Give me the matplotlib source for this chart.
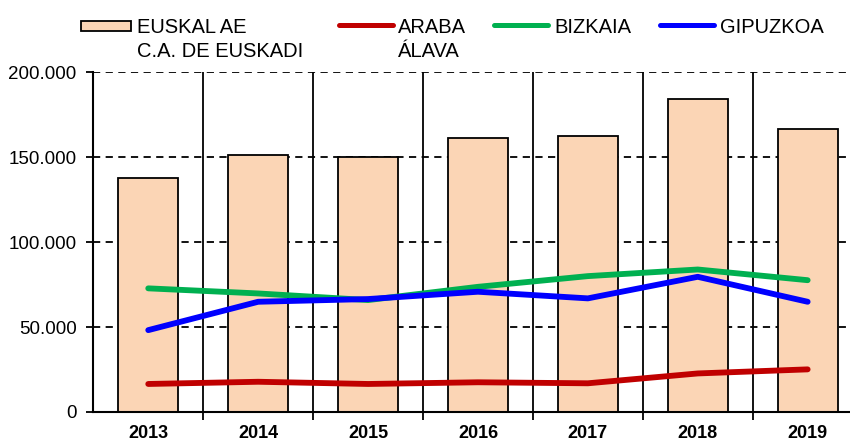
import matplotlib
matplotlib.use('Agg')
import matplotlib.pyplot as plt
from matplotlib.patches import Rectangle
from matplotlib.lines import Line2D
from matplotlib.ticker import FuncFormatter
import numpy as np

plt.rcParams['font.family'] = ['Liberation Sans', 'DejaVu Sans']

# values
years = ['2013', '2014', '2015', '2016', '2017', '2018', '2019']
euskal = [137600, 151500, 150300, 161100, 162300, 184500, 166800]
araba = [16500, 17800, 16500, 17500, 16900, 22700, 25100]
bizkaia = [72800, 69800, 65900, 73700, 80000, 83900, 77600]
gipuzkoa = [48200, 64900, 66500, 70800, 66900, 79600, 64900]

bar_label = ['EUSKAL AE', 'C.A. DE EUSKADI']
araba_label = ['ARABA', 'ÁLAVA']
bizkaia_label = ['BIZKAIA']
gipuzkoa_label = ['GIPUZKOA']

bar_color = '#FBD5B5'
red = '#C00000'
green = '#00B050'
blue = '#0000FF'

W, H = 850, 443
fig = plt.figure(figsize=(W / 100, H / 100), dpi=100)
# axes runs past the right edge, like the original (clipped)
ax = fig.add_axes([93.3 / W, 1 - 412 / H, 769.3 / W, 339.7 / H])

x = np.arange(len(years))
ax.bar(x, euskal, width=0.545, color=bar_color, edgecolor='black', linewidth=1.3, zorder=2)
ax.plot(x, araba, color=red, lw=4.2, solid_capstyle='round', zorder=3)
ax.plot(x, bizkaia, color=green, lw=4.2, solid_capstyle='round', zorder=3)
ax.plot(x, gipuzkoa, color=blue, lw=4.2, solid_capstyle='round', zorder=3)

ax.set_xlim(-0.5, len(years) - 0.5)
ax.set_ylim(0, 200000)
ax.set_yticks(np.arange(0, 200001, 50000))
ax.yaxis.set_major_formatter(FuncFormatter(lambda v, p: f'{int(v):,}'.replace(',', '.')))

# category boundaries as major ticks, labels on the centres
ax.set_xticks(np.arange(0.5, len(years) - 0.5, 1))
ax.set_xticklabels([])
ax.set_xticks(x, minor=True)
ax.set_xticklabels(years, minor=True, fontweight='bold', fontsize=13)
ax.tick_params(axis='x', which='major', direction='out', length=6, width=1.3, color='black')
ax.tick_params(axis='x', which='minor', length=0, pad=9.5)
ax.tick_params(axis='y', direction='out', length=5, width=1.3, labelsize=13.5, pad=7)

ax.set_axisbelow(True)
ax.xaxis.grid(True, which='major', color='black', linestyle='-', linewidth=1.3)
ax.yaxis.grid(True, color='black', linestyle=(0, (4, 3)), linewidth=1.3)

for s in ['top', 'right']:
    ax.spines[s].set_visible(False)
for s in ['left', 'bottom']:
    ax.spines[s].set_linewidth(1.5)
    ax.spines[s].set_zorder(4)

# legend drawn by hand along the top
def fx(px):
    return px / W

def fy(py):
    return 1 - py / H

fig.patches.append(Rectangle((fx(81), fy(31)), fx(131) - fx(81), fy(21) - fy(31),
                             transform=fig.transFigure, facecolor=bar_color,
                             edgecolor='black', linewidth=1.3))
for (x0, x1), col in [((339, 393), red), ((494, 548), green), ((660, 714), blue)]:
    fig.lines.append(Line2D([fx(x0), fx(x1)], [fy(25), fy(25)], transform=fig.transFigure,
                            color=col, lw=3.6, solid_capstyle='round'))

for tx, lines in [(137, bar_label), (398, araba_label), (554, bizkaia_label), (720, gipuzkoa_label)]:
    for k, t in enumerate(lines):
        fig.text(fx(tx), fy(33 + 24 * k), t, fontsize=14.5, va='baseline', ha='left')

fig.savefig('out.png', dpi=100)
